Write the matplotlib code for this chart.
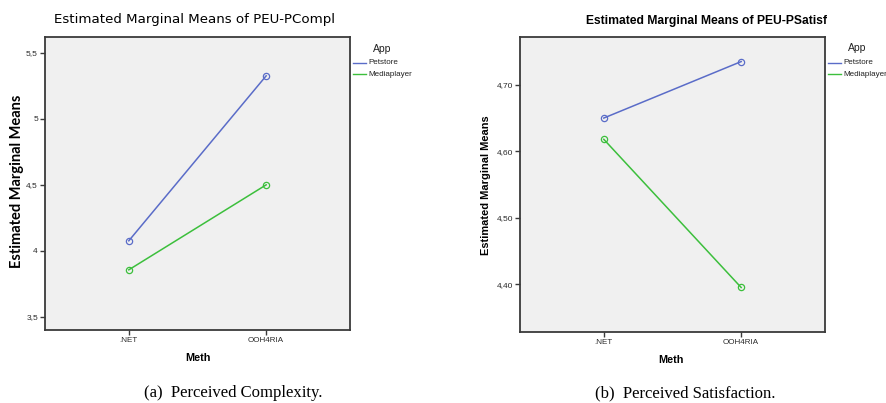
import matplotlib
matplotlib.use("Agg")
import matplotlib.pyplot as plt
from matplotlib.lines import Line2D

methods = [".NET", "OOH4RIA"]
apps = ["Petstore", "Mediaplayer"]
compl_petstore = [4.076, 5.326]
compl_mediaplayer = [3.856, 4.50]
satisf_petstore = [4.650, 4.735]
satisf_mediaplayer = [4.618, 4.395]
compl_ticks = [3.5, 4.0, 4.5, 5.0, 5.5]
compl_ticklabels = ["3,5", "4", "4,5", "5", "5,5"]
satisf_ticks = [4.40, 4.50, 4.60, 4.70]
satisf_ticklabels = ["4,40", "4,50", "4,60", "4,70"]

BLUE = "#5a6cc8"
GREEN = "#3cbf3c"
BG = "#f0f0f0"
FRAME = "#3a3a3a"

fig = plt.figure(figsize=(8.86, 4.03), dpi=100)
fig.patch.set_facecolor("white")

def make_panel(rect, pet, med, ticks, ticklabels, ylim):
    ax = fig.add_axes(rect)
    ax.set_facecolor(BG)
    x = list(range(len(methods)))
    ax.plot(x, pet, color=BLUE, lw=1.1, marker="o", ms=4.5, mfc="none", mec=BLUE, mew=0.9)
    ax.plot(x, med, color=GREEN, lw=1.1, marker="o", ms=4.5, mfc="none", mec=GREEN, mew=0.9)
    ax.set_xlim(-0.61, 1.61)
    ax.set_ylim(*ylim)
    ax.set_xticks(x)
    ax.set_xticklabels(methods, fontsize=5.8, family="Liberation Sans", color="#2a2a2a")
    ax.set_yticks(ticks)
    ax.set_yticklabels(ticklabels, fontsize=6.0, family="Liberation Sans", color="#2a2a2a")
    ax.tick_params(axis="both", direction="out", length=3.8, width=1.0, color=FRAME, pad=1.3)
    for s in ax.spines.values():
        s.set_color(FRAME)
        s.set_linewidth(1.3)
    return ax

ax1 = make_panel([0.0508, 0.1811, 0.3442, 0.7271], compl_petstore, compl_mediaplayer,
                 compl_ticks, compl_ticklabels, (3.40, 5.62))
ax2 = make_panel([0.5869, 0.1762, 0.3442, 0.7320], satisf_petstore, satisf_mediaplayer,
                 satisf_ticks, satisf_ticklabels, (4.328, 4.772))

# Titles
fig.text(195/886, 1-20/403, "Estimated Marginal Means of PEU-PCompl", ha="center", va="center",
         fontsize=9.6, family="DejaVu Sans")
fig.text(707/886, 1-21/403, "Estimated Marginal Means of PEU-PSatisf", ha="center", va="center",
         fontsize=8.7, family="Liberation Sans", weight="bold")

# Y labels
fig.text(17/886, 1-181/403, "Estimated Marginal Means", rotation=90, ha="center", va="center",
         fontsize=10.5, family="Lato", weight="bold")
fig.text(486/886, 1-185/403, "Estimated Marginal Means", rotation=90, ha="center", va="center",
         fontsize=7.9, family="Liberation Sans", weight="bold")

# X labels
fig.text(198/886, 1-358/403, "Meth", ha="center", va="center", fontsize=7.8,
         family="Liberation Sans", weight="bold")
fig.text(671/886, 1-360/403, "Meth", ha="center", va="center", fontsize=7.8,
         family="Liberation Sans", weight="bold")

# Legends
def legend(x_line, y_title, x_title):
    fig.text(x_title/886, 1-y_title/403, "App", ha="center", va="center", fontsize=7.5,
             family="Liberation Sans", color="#222222")
    for i, (name, col) in enumerate(zip(apps, [BLUE, GREEN])):
        yy = 1 - (63 + i*11)/403
        fig.add_artist(Line2D([x_line/886, (x_line+13)/886], [yy, yy], color=col, lw=1.0,
                              transform=fig.transFigure))
        fig.text((x_line+15)/886, yy, name, ha="left", va="center", fontsize=5.8,
                 family="Liberation Sans", color="#222222")

legend(353, 49, 382)
legend(828, 48, 857)

# Captions
fig.text(233/886, 1-393/403, "(a)  Perceived Complexity.", ha="center", va="center",
         fontsize=12, family="Liberation Serif")
fig.text(685/886, 1-393/403, "(b)  Perceived Satisfaction.", ha="center", va="center",
         fontsize=12, family="Liberation Serif")

fig.savefig("out.png", dpi=100, facecolor="white")
